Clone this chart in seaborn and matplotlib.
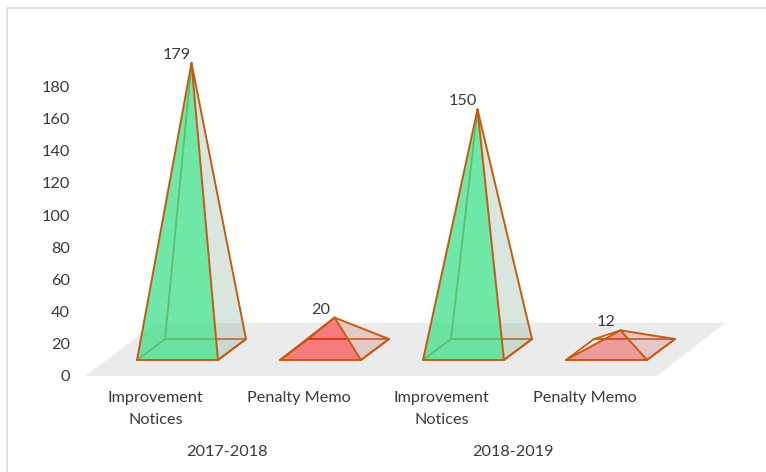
"""Pyramid column chart of notices per year, drawn on seaborn axes."""

import matplotlib
matplotlib.use("Agg")
import matplotlib.pyplot as plt
from matplotlib.lines import Line2D
import seaborn as sns

years = ["2017-2018", "2018-2019"]
categories = ["Improvement\nNotices", "Penalty Memo", "Improvement\nNotices", "Penalty Memo"]
values = [179, 20, 150, 12]
y_ticks = [0, 20, 40, 60, 80, 100, 120, 140, 160, 180]

# geometry of the fake 3d floor, in axis units
HALF_W = 0.283
DEPTH_X = 0.196
BASE_FRONT = 9.4
BASE_BACK = 22.5
BASE_MID = 15.9
FLOOR_BACK = 32.5
LABEL_SHIFT = 22 / 143

EDGE = "#C55A11"
TEXT = "#3a3a3a"
FONT_SIZE = 11.7

sns.set_theme(style="white")
plt.rcParams["font.family"] = ["Lato", "DejaVu Sans"]

fig = plt.figure(figsize=(7.66, 4.72), dpi=100)
ax = fig.add_axes([85 / 766, 1 - 376 / 472, 640 / 766, 346 / 472])

x_min = (85 - 177.5) / 143
x_max = (725 - 177.5) / 143
y_min = -0.6
y_max = 215.6


def edge(p, q, lw=1.3, z=3):
    sns.lineplot(x=[p[0], q[0]], y=[p[1], q[1]], sort=False, estimator=None,
                 color=EDGE, linewidth=lw, ax=ax, zorder=z)


# floor
floor_dx = 28 / 21 * (FLOOR_BACK - y_min) * 1.6 / 143
floor_w = (657 - 85) / 143
ax.fill([x_min, x_min + floor_w, x_max, x_min + floor_dx],
        [y_min, y_min, FLOOR_BACK, FLOOR_BACK],
        color="#ebebeb", lw=0, zorder=1)

for i, (cat, val) in enumerate(zip(categories, values)):
    cx = i
    fl = (cx - HALF_W, BASE_FRONT)
    fr = (cx + HALF_W, BASE_FRONT)
    bl = (cx - HALF_W + DEPTH_X, BASE_BACK)
    br = (cx + HALF_W + DEPTH_X, BASE_BACK)
    apex = (cx + DEPTH_X / 2, BASE_MID + val)
    is_green = i % 2 == 0

    # low pyramids show the left face as a small white sliver
    if val < 15:
        ax.fill(*zip(fl, bl, apex), color="white", lw=0, zorder=2)

    # hidden edges go under the faces
    for p, q in [(fl, bl), (bl, br), (bl, apex), (br, fr)]:
        edge(p, q)

    side = (130 / 255, 175 / 255, 150 / 255) if is_green else (215 / 255, 120 / 255, 120 / 255)
    ax.fill(*zip(fr, br, apex), color=side, alpha=0.3, lw=0, zorder=4)

    if is_green:
        ax.fill(*zip(fl, fr, apex), color="#3de08a", alpha=0.75, lw=0, zorder=5)
    elif i == 1:
        ax.fill(*zip(fl, fr, apex), color="#ff0000", alpha=0.47, lw=0, zorder=5)
    else:
        ax.fill(*zip(fl, fr, apex), color="#f03030", alpha=0.42, lw=0, zorder=5)

    # visible edges on top
    for p, q in [(fl, fr), (fr, br), (fl, apex), (fr, apex), (br, apex)]:
        edge(p, q, lw=1.4, z=6)

    ax.annotate(str(val), xy=apex, xytext=(-10.3, 5.8), textcoords="offset points",
                ha="center", va="center", fontsize=FONT_SIZE, color=TEXT, zorder=7)

ax.set_xlim(x_min, x_max)
ax.set_ylim(y_min, y_max)

ax.set_xticks([i - LABEL_SHIFT for i in range(len(categories))])
ax.set_xticklabels(categories, fontsize=FONT_SIZE, color=TEXT, linespacing=1.68)
ax.set_yticks(y_ticks)
ax.set_yticklabels([str(t) for t in y_ticks], fontsize=FONT_SIZE, color=TEXT)
ax.tick_params(axis="x", length=0, pad=11)
ax.tick_params(axis="y", length=0, pad=11)
ax.grid(False)
sns.despine(ax=ax, left=True, bottom=True)
ax.patch.set_alpha(0)

# year row under the category labels
for k, year in enumerate(years):
    ax.text(0.5 + 2 * k - LABEL_SHIFT, -47.8, year, ha="center", va="center",
            fontsize=FONT_SIZE, color=TEXT)

# chart frame, only top and left survive the crop
fig.add_artist(Line2D([6.5 / 766, 6.5 / 766, 1], [0, 1 - 7.5 / 472, 1 - 7.5 / 472],
                      color="#d9d9d9", lw=1.2))

fig.savefig("out.png", dpi=100)
